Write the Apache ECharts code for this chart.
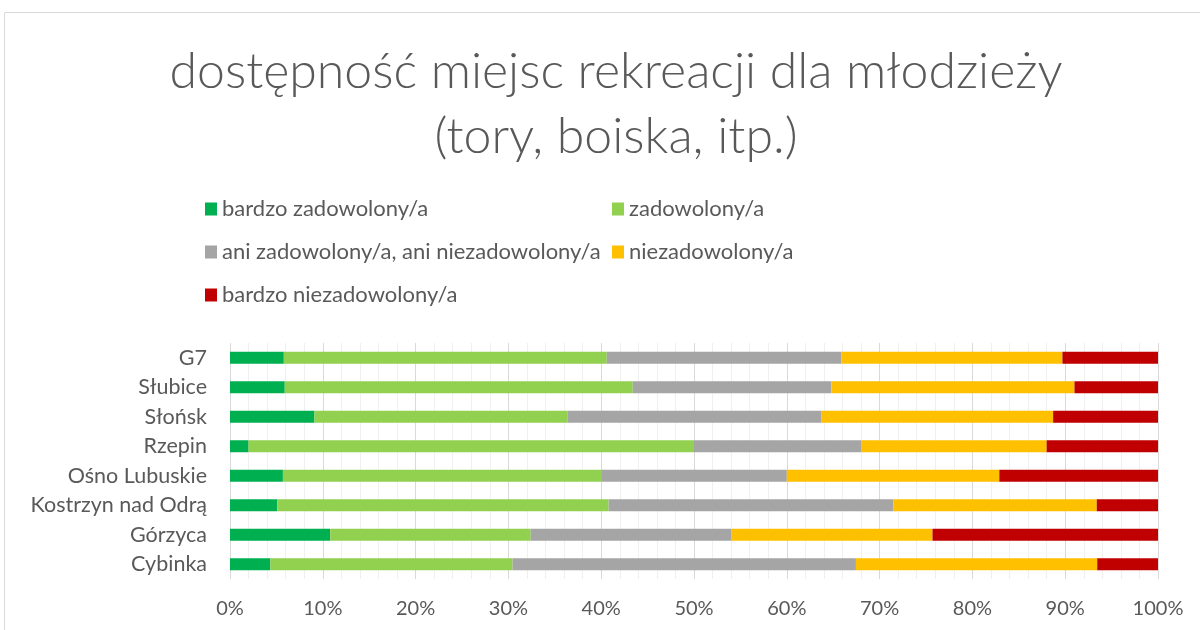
<!DOCTYPE html>
<html><head><meta charset="utf-8">
<script src="https://cdn.jsdelivr.net/npm/echarts@6/dist/echarts.min.js"></script>
<style>html,body{margin:0;padding:0;background:#fff}#c{width:1200px;height:630px}</style>
</head><body><div id="c"></div>
<script>
const categories = ['G7','Słubice','Słońsk','Rzepin','Ośno Lubuskie','Kostrzyn nad Odrą','Górzyca','Cybinka'];
const seriesNames = ['bardzo zadowolony/a','zadowolony/a','ani zadowolony/a, ani niezadowolony/a','niezadowolony/a','bardzo niezadowolony/a'];
const bardzoZadowolony = [5.8, 5.9, 9.1, 2.0, 5.7, 5.1, 10.8, 4.35];
const zadowolony = [34.8, 37.5, 27.3, 48.0, 34.3, 35.7, 21.6, 26.1];
const ani = [25.3, 21.4, 27.3, 18.0, 20.0, 30.7, 21.6, 37.0];
const niezadowolony = [23.8, 26.2, 25.0, 20.0, 22.9, 21.9, 21.7, 26.0];
const bardzoNiezadowolony = [10.3, 9.0, 11.3, 12.0, 17.1, 6.6, 24.3, 6.55];
const colors = ['#00b050','#92d050','#a5a5a5','#ffc000','#c00000'];
const xTicks = [0,10,20,30,40,50,60,70,80,90,100];

const values = [bardzoZadowolony, zadowolony, ani, niezadowolony, bardzoNiezadowolony];
const font = 'Lato, "Open Sans", sans-serif';
const txt = '#595959';
const chart = echarts.init(document.getElementById('c'));
const legendBase = {
  orient:'vertical', itemWidth:12, itemHeight:13, itemGap:21, icon:'rect',
  textStyle:{color:txt, fontSize:22, fontFamily:font}
};
chart.setOption({
  backgroundColor:'#fff',
  animation:false,
  graphic:[{type:'rect', shape:{x:4.5,y:12.5,width:1200,height:630}, style:{fill:'none',stroke:'#d9d9d9',lineWidth:1}}],
  title:{
    text:'dostępność miejsc rekreacji dla młodzieży\n(tory, boiska, itp.)',
    left:611, textAlign:'center', top:34,
    textStyle:{color:txt, fontSize:50, fontWeight:300, fontFamily:font, lineHeight:65}
  },
  legend:[
    Object.assign({}, legendBase, {left:200, top:193, data:[seriesNames[0], seriesNames[2], seriesNames[4]]}),
    Object.assign({}, legendBase, {left:607, top:193, data:[seriesNames[1], seriesNames[3]]})
  ],
  grid:{left:230, right:42, top:343, bottom:51},
  xAxis:{
    type:'value', min:0, max:100, interval:10,
    axisLine:{show:false}, axisTick:{show:false},
    axisLabel:{color:txt, fontSize:20, fontFamily:font, margin:20, formatter: v => xTicks.includes(v) ? v + '%' : ''},
    splitLine:{show:true, lineStyle:{color:'#d9d9d9', width:1}},
    minorTick:{show:false, splitNumber:5},
    minorSplitLine:{show:true, lineStyle:{color:'#f0f0f0', width:1}}
  },
  yAxis:{
    type:'category', data:categories, inverse:true,
    axisLine:{show:false}, axisTick:{show:false},
    axisLabel:{color:txt, fontSize:21.5, fontFamily:font, margin:23}
  },
  series: seriesNames.map((n,i) => ({
    name:n, type:'bar', stack:'total', data:values[i], barWidth:12,
    itemStyle:{color:colors[i]}
  }))
});
</script></body></html>
